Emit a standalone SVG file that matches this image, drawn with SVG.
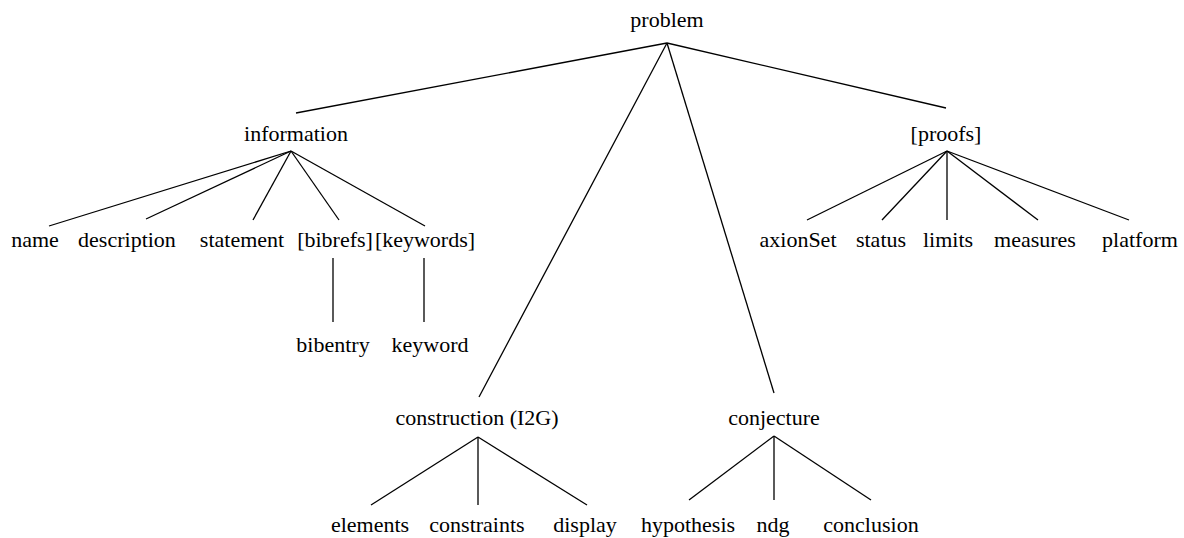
<svg xmlns="http://www.w3.org/2000/svg" width="1184" height="538" viewBox="0 0 1184 538">
<style>
text{font-family:"Liberation Serif","Times New Roman",serif;font-size:22px;fill:#000;text-anchor:middle}
line{stroke:#000;stroke-width:1.3}
</style>
<rect width="1184" height="538" fill="#fff"/>
<g id="connectors">
<line x1="667" y1="43" x2="296" y2="113"/>
<line x1="667" y1="43" x2="946" y2="108"/>
<line x1="667" y1="43" x2="479" y2="397"/>
<line x1="667" y1="43" x2="774" y2="393"/>
<line x1="291" y1="151" x2="49" y2="226"/>
<line x1="291" y1="151" x2="146" y2="219"/>
<line x1="291" y1="151" x2="253" y2="220"/>
<line x1="291" y1="151" x2="339" y2="220"/>
<line x1="291" y1="151" x2="425" y2="226"/>
<line x1="333" y1="258" x2="333" y2="322"/>
<line x1="424" y1="258" x2="424" y2="322"/>
<line x1="947" y1="151" x2="807" y2="220"/>
<line x1="947" y1="151" x2="882" y2="220"/>
<line x1="947" y1="151" x2="947" y2="220"/>
<line x1="947" y1="151" x2="1038" y2="220"/>
<line x1="947" y1="151" x2="1129" y2="220"/>
<line x1="478" y1="437" x2="371" y2="505"/>
<line x1="478" y1="437" x2="478" y2="505"/>
<line x1="478" y1="437" x2="587" y2="505"/>
<line x1="774" y1="436" x2="689" y2="500"/>
<line x1="774" y1="436" x2="774" y2="500"/>
<line x1="774" y1="436" x2="871" y2="500"/>
</g>
<g id="problem"><text x="667" y="27">problem</text></g>
<g id="information"><text x="296" y="141">information</text></g>
<g id="proofs"><text x="946" y="141">[proofs]</text></g>
<g id="name"><text x="35" y="247">name</text></g>
<g id="description"><text x="127" y="247">description</text></g>
<g id="statement"><text x="242" y="247">statement</text></g>
<g id="bibrefs"><text x="335" y="247">[bibrefs]</text></g>
<g id="keywords"><text x="425" y="247">[keywords]</text></g>
<g id="bibentry"><text x="333" y="352">bibentry</text></g>
<g id="keyword"><text x="430" y="352">keyword</text></g>
<g id="axionSet"><text x="798" y="247">axionSet</text></g>
<g id="status"><text x="881" y="247">status</text></g>
<g id="limits"><text x="948" y="247">limits</text></g>
<g id="measures"><text x="1035" y="247">measures</text></g>
<g id="platform"><text x="1140" y="247">platform</text></g>
<g id="construction"><text x="477" y="425">construction (I2G)</text></g>
<g id="conjecture"><text x="774" y="425">conjecture</text></g>
<g id="elements"><text x="370" y="532">elements</text></g>
<g id="constraints"><text x="477" y="532">constraints</text></g>
<g id="display"><text x="585" y="532">display</text></g>
<g id="hypothesis"><text x="688" y="532">hypothesis</text></g>
<g id="ndg"><text x="773" y="532">ndg</text></g>
<g id="conclusion"><text x="871" y="532">conclusion</text></g>
</svg>
